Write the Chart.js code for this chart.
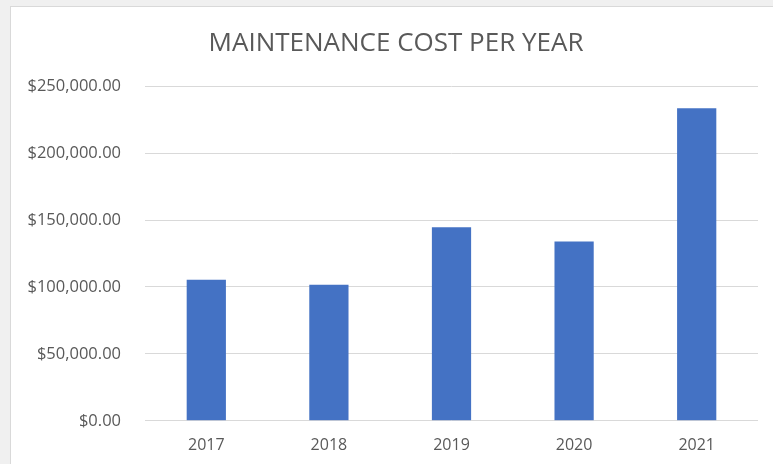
<!DOCTYPE html>
<html>
<head>
<meta charset="utf-8">
<script src="https://cdn.jsdelivr.net/npm/chart.js@4"></script>
<style>
    html, body { margin: 0; padding: 0; background: #f0f0f0; overflow: hidden; }
    #frame {
        position: absolute; left: 10px; top: 6px;
        width: 762px; height: 457px;
        background: #ffffff;
        border-left: 1px solid #d9d9d9;
        border-top: 1px solid #d9d9d9;
    }
    canvas { display: block; }
</style>
</head>
<body>
<div id="frame"><canvas id="chart" width="762" height="457"></canvas></div>
<script>
// datos
const years = ['2017', '2018', '2019', '2020', '2021'];
const costs = [105400, 101700, 144600, 133900, 233600];
const yTicks = [0, 50000, 100000, 150000, 200000, 250000];

const textColor = '#595959';
const fontFamily = '"Open Sans", sans-serif';

const money = (v) => '$' + v.toLocaleString('en-US', { minimumFractionDigits: 2, maximumFractionDigits: 2 });

// desplaza un poco el título a la derecha, como en el original
const titleShift = {
    id: 'titleShift',
    afterLayout: (chart) => {
        if (chart.titleBlock) {
            chart.titleBlock.left += 23;
        }
    }
};

const config = {
    type: 'bar',
    data: {
        labels: years,
        datasets: [{
            data: costs,
            backgroundColor: '#4472C4',
            borderWidth: 0,
            categoryPercentage: 1,
            barPercentage: 0.32
        }]
    },
    options: {
        responsive: false,
        animation: false,
        layout: { padding: { left: 0, right: 15, top: 0, bottom: -6 } },
        plugins: {
            legend: { display: false },
            tooltip: { enabled: false },
            title: {
                display: true,
                text: 'MAINTENANCE COST PER YEAR',
                color: textColor,
                font: { family: fontFamily, size: 26, weight: 'normal' },
                padding: { top: 21, bottom: 27 }
            }
        },
        scales: {
            x: {
                grid: { display: false, drawTicks: false },
                border: { display: false },
                ticks: {
                    color: textColor,
                    font: { family: fontFamily, size: 16 },
                    padding: 15
                }
            },
            y: {
                min: 0,
                max: 250000,
                afterBuildTicks: (scale) => {
                    scale.ticks = yTicks.map(v => ({ value: v }));
                },
                afterFit: (scale) => { scale.width = 134; },
                grid: { color: '#d9d9d9', lineWidth: 1, drawTicks: false },
                border: { display: false },
                ticks: {
                    color: textColor,
                    font: { family: fontFamily, size: 16.5 },
                    padding: 24,
                    callback: (value) => money(value)
                }
            }
        }
    },
    plugins: [titleShift]
};

new Chart(document.getElementById('chart'), config);
</script>
</body>
</html>
